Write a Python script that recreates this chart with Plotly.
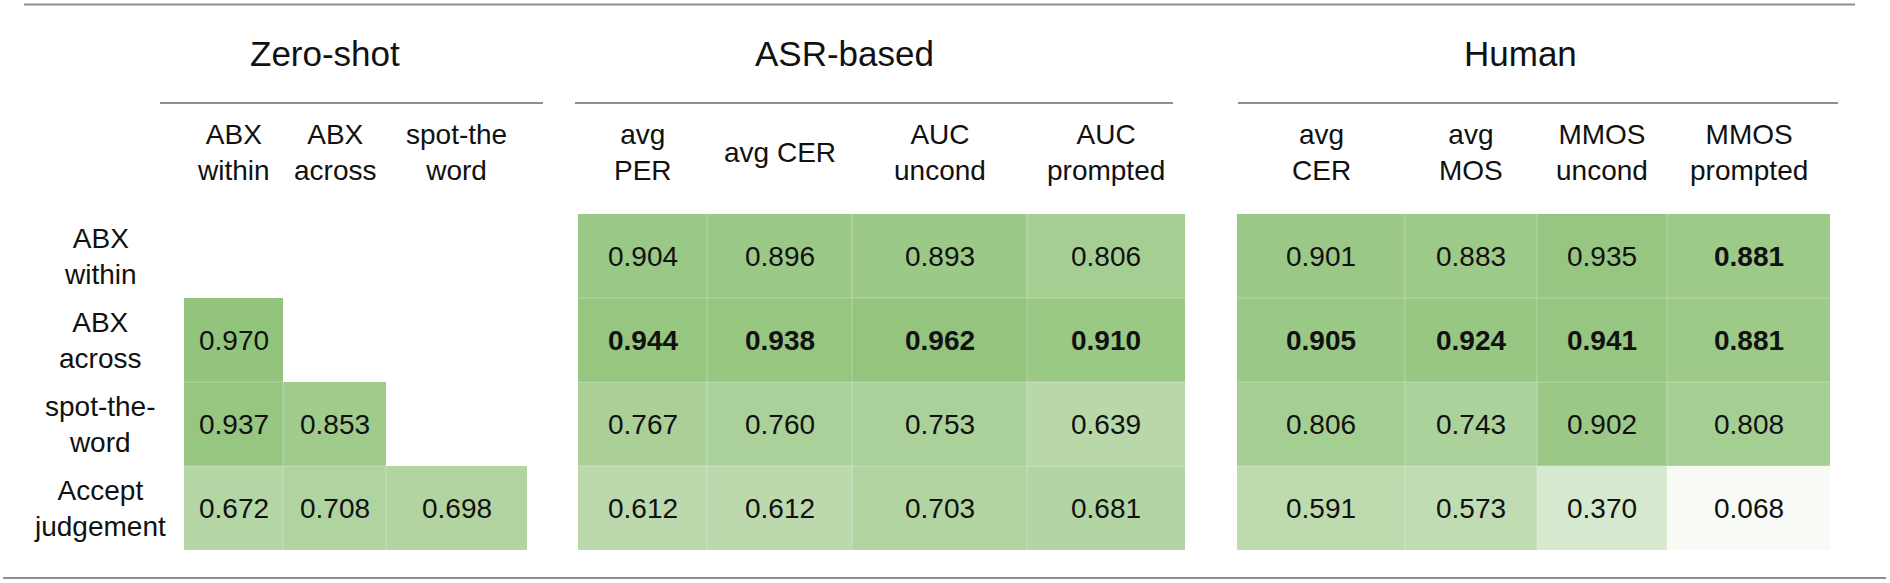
import plotly.graph_objects as go

# ---------------- data ----------------
row_labels = ["ABX<br>within", "ABX<br>across", "spot-the-<br>word", "Accept<br>judgement"]

group_titles = ["Zero-shot", "ASR-based", "Human"]

zs_cols = ["ABX<br>within", "ABX<br>across", "spot-the<br>word"]
asr_cols = ["avg<br>PER", "avg CER", "AUC<br>uncond", "AUC<br>prompted"]
human_cols = ["avg<br>CER", "avg<br>MOS", "MMOS<br>uncond", "MMOS<br>prompted"]

zs_vals = [
    [None, None, None],
    [0.970, None, None],
    [0.937, 0.853, None],
    [0.672, 0.708, 0.698],
]
asr_vals = [
    [0.904, 0.896, 0.893, 0.806],
    [0.944, 0.938, 0.962, 0.910],
    [0.767, 0.760, 0.753, 0.639],
    [0.612, 0.612, 0.703, 0.681],
]
human_vals = [
    [0.901, 0.883, 0.935, 0.881],
    [0.905, 0.924, 0.941, 0.881],
    [0.806, 0.743, 0.902, 0.808],
    [0.591, 0.573, 0.370, 0.068],
]
bold_max = [False, True, True]   # bold the column maxima in these groups

# ---------------- layout geometry (page pixels) ----------------
W, H = 1890, 583
col_edges = [
    [184, 283, 386, 527],
    [578, 707, 852, 1027, 1185],
    [1237, 1405, 1537, 1667, 1830],
]
row_edges = [214, 298, 382, 466, 550]
sub_lines = [(160, 543), (575, 1173), (1238, 1838)]
title_x = [325, 844, 1520]
FONT = "Liberation Sans, Arial, Helvetica, sans-serif"
TXT = "#111111"
LINE = "#8f8f8f"
CELL_SEP = "rgba(255,255,255,0.3)"

groups = [
    (zs_cols, zs_vals),
    (asr_cols, asr_vals),
    (human_cols, human_vals),
]

all_vals = [v for g in (zs_vals, asr_vals, human_vals) for r in g for v in r if v is not None]

fig = go.Figure()

for gi, (cols, vals) in enumerate(groups):
    ncol = len(cols)
    colmax = []
    for c in range(ncol):
        v = [r[c] for r in vals if r[c] is not None]
        colmax.append(max(v) if v else None)
    text = []
    for r in vals:
        tr = []
        for c, v in enumerate(r):
            if v is None:
                tr.append("")
            else:
                s = f"{v:.3f}"
                if bold_max[gi] and v == colmax[c]:
                    s = f"<b>{s}</b>"
                tr.append(s)
        text.append(tr)
    fig.add_trace(go.Heatmap(
        z=vals,
        x=col_edges[gi],
        y=row_edges,
        text=text,
        texttemplate="%{text}",
        textfont=dict(family=FONT, size=28, color=TXT),
        coloraxis="coloraxis",
        hoverinfo="skip",
    ))

    # faint separators between filled cells
    xe = col_edges[gi]
    for ri, r in enumerate(vals):
        for c, v in enumerate(r):
            if v is None:
                continue
            if c + 1 < ncol and r[c + 1] is not None:
                fig.add_shape(type="line", x0=xe[c + 1], x1=xe[c + 1],
                              y0=row_edges[ri], y1=row_edges[ri + 1],
                              xref="x", yref="y", line=dict(color=CELL_SEP, width=1))
            if ri + 1 < len(vals) and vals[ri + 1][c] is not None:
                fig.add_shape(type="line", x0=xe[c], x1=xe[c + 1],
                              y0=row_edges[ri + 1], y1=row_edges[ri + 1],
                              xref="x", yref="y", line=dict(color=CELL_SEP, width=1))

    # column headers
    for c, lab in enumerate(cols):
        cx = (col_edges[gi][c] + col_edges[gi][c + 1]) / 2
        fig.add_annotation(x=cx, y=152, text=lab, showarrow=False,
                           xanchor="center", yanchor="middle",
                           font=dict(family=FONT, size=28, color=TXT))
    # group title
    fig.add_annotation(x=title_x[gi], y=53, text=group_titles[gi], showarrow=False,
                       xanchor="center", yanchor="middle",
                       font=dict(family=FONT, size=35, color=TXT))
    # group underline
    x0, x1 = sub_lines[gi]
    fig.add_shape(type="line", x0=x0, x1=x1, y0=103, y1=103,
                  xref="x", yref="y", line=dict(color=LINE, width=2))

# row labels
for r, lab in enumerate(row_labels):
    cy = (row_edges[r] + row_edges[r + 1]) / 2
    fig.add_annotation(x=100, y=cy, text=lab, showarrow=False,
                       xanchor="center", yanchor="middle",
                       font=dict(family=FONT, size=28, color=TXT))

# top and bottom rules
fig.add_shape(type="line", x0=24, x1=1855, y0=4.5, y1=4.5,
              xref="x", yref="y", line=dict(color=LINE, width=2))
fig.add_shape(type="line", x0=3, x1=1886, y0=578, y1=578,
              xref="x", yref="y", line=dict(color=LINE, width=2))

fig.update_layout(
    width=W, height=H,
    margin=dict(l=0, r=0, t=0, b=0),
    paper_bgcolor="white", plot_bgcolor="white",
    showlegend=False,
    coloraxis=dict(
        cmin=min(all_vals), cmax=max(all_vals),
        colorscale=[[0, "#f7faf5"], [1, "#93c47d"]],
        showscale=False,
    ),
    xaxis=dict(range=[0, W], visible=False, fixedrange=True),
    yaxis=dict(range=[H, 0], visible=False, fixedrange=True),
)

fig.write_html(
    "out.html",
    config={"displayModeBar": False, "staticPlot": True},
    post_script="document.body.style.margin='0';document.body.style.overflow='hidden';",
)
